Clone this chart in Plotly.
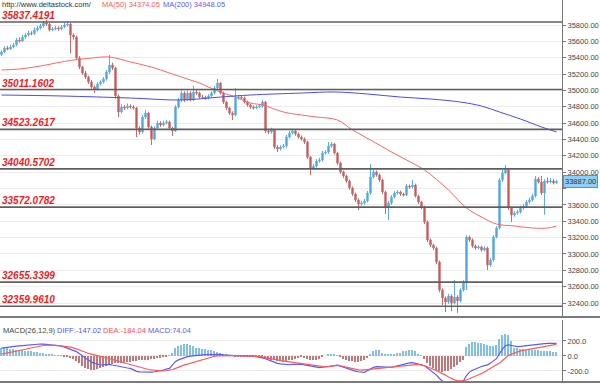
import plotly.graph_objects as go
from plotly.subplots import make_subplots

# ---------------- data ----------------
opens = [
    35440, 35470, 35519, 35507, 35531, 35555, 35617, 35604, 35653, 35678,
    35702, 35698, 35739, 35763, 35788, 35825, 35812, 35739, 35751, 35763,
    35751, 35776, 35800, 35812, 35678, 35653, 35396, 35286, 35213, 35164,
    35103, 35042, 35017, 35078, 35103, 35140, 35225, 35311, 35274, 34932,
    34736, 34797, 34785, 34809, 34797, 34785, 34540, 34491, 34675, 34724,
    34553, 34406, 34540, 34602, 34577, 34602, 34614, 34540, 34504, 34797,
    34883, 34968, 34883, 34968, 34883, 34981, 34968, 34919, 34913, 34907,
    34932, 34968, 35030, 35091, 34968, 34858, 34785, 34724, 34699, 34907,
    34919, 34907, 34858, 34822, 34797, 34785, 34797, 34809, 34858, 34504,
    34491, 34516, 34308, 34284, 34308, 34320, 34430, 34479, 34504, 34467,
    34430, 34406, 34369, 34186, 34051, 34075, 34137, 34149, 34234, 34247,
    34320, 34345, 34234, 34112, 34002, 33953, 33892, 33807, 33733, 33660,
    33611, 33623, 33648, 33745, 33941, 34002, 33966, 33904, 33758, 33562,
    33623, 33697, 33745, 33757, 33733, 33721, 33831, 33819, 33843, 33709,
    33635, 33574, 33391, 33171, 33109, 33073, 32902, 32559, 32461, 32412,
    32486, 32400, 32473, 32425, 32559, 32645, 33207, 33171, 33097, 33073,
    33085, 33048, 33073, 32865, 32926, 33207, 33317, 33904, 33990, 34027,
    33562, 33476, 33501, 33513, 33562, 33586, 33635, 33660, 33709, 33917,
    33880, 33745, 33892, 33880, 33892, 33868,
]
highs = [
    35490, 35540, 35545, 35560, 35580, 35640, 35650, 35680, 35700, 35730,
    35725, 35770, 35790, 35815, 35850, 35861, 35825, 35775, 35790, 35785,
    35800, 35830, 35850, 35830, 35700, 35670, 35420, 35300, 35240, 35180,
    35125, 35060, 35100, 35125, 35165, 35250, 35433, 35340, 35290, 34950,
    34830, 34820, 34840, 34830, 34820, 34800, 34560, 34700, 34760, 34740,
    34570, 34560, 34630, 34625, 34630, 34640, 34630, 34555, 34820, 34910,
    35000, 34990, 35000, 34990, 35054, 35010, 34985, 34945, 34935, 34955,
    34990, 35055, 35140, 35105, 34985, 34870, 34800, 34745, 35030, 34945,
    34940, 34925, 34875, 34840, 34815, 34820, 34835, 34883, 34870, 34525,
    34545, 34530, 34330, 34330, 34345, 34455, 34505, 34530, 34520, 34485,
    34450, 34425, 34385, 34200, 34100, 34160, 34175, 34260, 34270, 34369,
    34370, 34360, 34250, 34130, 34020, 33970, 33910, 33825, 33750, 33680,
    33650, 33675, 33770, 34100, 34030, 34020, 33985, 33920, 33775, 33650,
    33720, 33770, 33780, 33775, 33750, 33855, 33850, 33904, 33860, 33725,
    33650, 33590, 33410, 33190, 33125, 33090, 32920, 32580, 32480, 32510,
    32505, 32681, 32495, 32580, 32680, 33230, 33225, 33190, 33115, 33110,
    33100, 33095, 33090, 32950, 33230, 33340, 33930, 34030, 34088, 34040,
    33580, 33525, 33540, 33590, 33610, 33660, 33690, 33735, 33953, 33940,
    33953, 33915, 33935, 33930, 33915, 33905,
]
lows = [
    35420, 35455, 35490, 35495, 35515, 35540, 35585, 35590, 35630, 35660,
    35675, 35680, 35720, 35745, 35770, 35790, 35720, 35725, 35735, 35730,
    35735, 35760, 35780, 35457, 35620, 35370, 35260, 35190, 35140, 35080,
    35020, 34968, 35000, 35060, 35085, 35120, 35200, 35250, 34900, 34675,
    34720, 34760, 34770, 34775, 34765, 34430, 34460, 34470, 34650, 34530,
    34333, 34390, 34520, 34555, 34560, 34585, 34520, 34443, 34490, 34780,
    34860, 34860, 34870, 34865, 34870, 34945, 34895, 34895, 34885, 34890,
    34915, 34950, 35015, 34950, 34835, 34760, 34700, 34638, 34680, 34885,
    34885, 34840, 34800, 34775, 34765, 34770, 34780, 34790, 34480, 34465,
    34470, 34285, 34247, 34265, 34290, 34300, 34410, 34460, 34445, 34410,
    34385, 34345, 34160, 33966, 34030, 34055, 34115, 34130, 34215, 34225,
    34300, 34215, 34090, 33980, 33930, 33870, 33785, 33710, 33635, 33537,
    33590, 33600, 33630, 33725, 33920, 33945, 33880, 33735, 33488, 33415,
    33600, 33680, 33725, 33710, 33700, 33705, 33795, 33800, 33690, 33610,
    33550, 33365, 33145, 33085, 33050, 32875, 32530, 32376, 32290, 32390,
    32300, 32380, 32280, 32405, 32540, 32559, 33150, 33075, 33050, 33055,
    33025, 33030, 32804, 32845, 32905, 33190, 33300, 33880, 33975, 33540,
    33391, 33455, 33480, 33495, 33540, 33565, 33615, 33640, 33690, 33860,
    33720, 33480, 33860, 33865, 33850, 33860,
]
closes = [
    35470, 35519, 35507, 35531, 35555, 35617, 35604, 35653, 35678, 35702,
    35698, 35739, 35763, 35788, 35825, 35812, 35739, 35751, 35763, 35751,
    35776, 35800, 35812, 35678, 35653, 35396, 35286, 35213, 35164, 35103,
    35042, 35017, 35078, 35103, 35140, 35225, 35311, 35274, 34932, 34736,
    34797, 34785, 34809, 34797, 34785, 34540, 34491, 34675, 34724, 34553,
    34406, 34540, 34602, 34577, 34602, 34614, 34540, 34504, 34797, 34883,
    34968, 34883, 34968, 34883, 34981, 34968, 34919, 34913, 34907, 34932,
    34968, 35030, 35091, 34968, 34858, 34785, 34724, 34699, 34907, 34919,
    34907, 34858, 34822, 34797, 34785, 34797, 34809, 34858, 34504, 34491,
    34516, 34308, 34284, 34308, 34320, 34430, 34479, 34504, 34467, 34430,
    34406, 34369, 34186, 34051, 34075, 34137, 34149, 34234, 34247, 34320,
    34345, 34234, 34112, 34002, 33953, 33892, 33807, 33733, 33660, 33611,
    33623, 33648, 33745, 33941, 34002, 33966, 33904, 33758, 33562, 33623,
    33697, 33745, 33757, 33733, 33721, 33831, 33819, 33843, 33709, 33635,
    33574, 33391, 33171, 33109, 33073, 32902, 32559, 32461, 32412, 32486,
    32400, 32473, 32425, 32559, 32645, 33207, 33171, 33097, 33073, 33085,
    33048, 33073, 32865, 32926, 33207, 33317, 33904, 33990, 34027, 33562,
    33476, 33501, 33513, 33562, 33586, 33635, 33660, 33709, 33917, 33880,
    33745, 33892, 33880, 33892, 33868, 33887,
]

ma50_idx = [0, 6, 13, 20, 24, 30, 36, 43, 50, 56, 63, 66, 72, 78, 83, 87, 94,
            100, 105, 112, 117, 123, 130, 135, 141, 149, 155, 160, 165, 171,
            177, 182, 185]
ma50_val = [35250, 35262, 35299, 35348, 35372, 35396, 35409, 35348, 35286,
            35213, 35127, 35091, 34993, 34919, 34846, 34822, 34736, 34699,
            34675, 34638, 34516, 34394, 34247, 34149, 34027, 33782, 33562,
            33452, 33366, 33342, 33317, 33317, 33342]

ma200_idx = [0, 20, 43, 60, 73, 83, 100, 111, 122, 133, 143, 153, 160, 166,
             173, 180, 185]
ma200_val = [34944, 34932, 34907, 34883, 34919, 34944, 34968, 34981, 34956,
             34919, 34895, 34858, 34809, 34736, 34650, 34553, 34492]

diff = [
    105, 112, 118, 123, 127, 132, 136, 140, 145, 150,
    154, 157, 159, 160, 158, 154, 150, 146, 142, 138,
    132, 118, 104, 88, 72, 58, 30, 2, -28, -60,
    -82, -96, -110, -120, -117, -114, -111, -120, -130, -140,
    -146, -153, -160, -166, -185, -205, -211, -213, -215, -218,
    -216, -210, -204, -199, -188, -176, -166, -120, -72, -52,
    -35, -18, -8, -3, 3, 8, 12, 15, 17, 19,
    21, 22, 22, 21, 16, 11, 7, 4, 4, 4,
    4, 4, 4, 3, -3, -9, -15, -21, -35, -52,
    -68, -85, -99, -106, -113, -119, -117, -112, -108, -105,
    -110, -118, -126, -136, -145, -152, -155, -150, -143, -135,
    -128, -123, -122, -135, -150, -165, -180, -192, -202, -210,
    -215, -218, -195, -170, -152, -143, -145, -150, -154, -154,
    -150, -142, -130, -118, -108, -98, -92, -89, -97, -107,
    -117, -130, -160, -190, -215, -255, -300, -340, -370, -390,
    -400, -398, -385, -360, -330, -260, -215, -190, -170, -155,
    -140, -128, -118, -95, -65, -35, 30, 95, 140, 148,
    140, 130, 124, 127, 133, 139, 144, 147, 155, 160,
    163, 166, 169, 170, 170, 169,
]
dea = [
    25, 32, 40, 48, 56, 64, 72, 80, 90, 100,
    110, 120, 128, 135, 140, 143, 145, 145, 143, 140,
    136, 132, 126, 118, 108, 96, 82, 66, 50, 34,
    22, 12, 3, -6, -14, -24, -34, -46, -58, -70,
    -80, -92, -104, -116, -128, -140, -150, -160, -170, -180,
    -186, -192, -196, -199, -200, -197, -190, -180, -165, -148,
    -132, -118, -108, -96, -82, -67, -55, -42, -30, -20,
    -12, -4, 2, 4, 5, 5, 5, 5, 5, 5,
    4, 4, 4, 4, 2, -2, -8, -14, -20, -26,
    -34, -42, -52, -62, -68, -76, -83, -88, -92, -95,
    -100, -108, -116, -124, -131, -137, -141, -146, -145, -142,
    -136, -130, -126, -130, -140, -152, -162, -172, -180, -186,
    -188, -184, -180, -175, -170, -166, -163, -160, -157, -154,
    -150, -147, -144, -141, -137, -131, -124, -116, -111, -112,
    -118, -130, -145, -160, -178, -196, -215, -233, -255, -280,
    -300, -318, -328, -333, -332, -320, -300, -280, -262, -250,
    -236, -215, -190, -165, -140, -118, -95, -60, -25, 8,
    25, 42, 58, 68, 76, 83, 90, 96, 101, 106,
    112, 120, 128, 138, 148, 158,
]
macd_hist = [
    110, 105, 100, 95, 90, 85, 80, 75, 70, 65,
    60, 55, 50, 45, 35, 28, 22, 16, 10, 6,
    3, -5, -15, -30, -45, -70, -100, -130, -160, -180,
    -187, -185, -175, -160, -150, -135, -120, -110, -100, -95,
    -88, -82, -78, -75, -70, -65, -60, -56, -53, -50,
    -45, -38, -30, -22, -15, -8, 5, 40, 100, 130,
    150, 160, 160, 150, 130, 110, 100, 95, 90, 82,
    75, 65, 50, 40, 30, 15, 5, 0, -3, -5,
    -6, -8, -10, -12, -14, -18, -20, -22, -30, -40,
    -50, -60, -68, -72, -76, -70, -60, -50, -40, -30,
    -20, -30, -40, -50, -53, -50, -40, -20, 0, 15,
    20, 15, 5, -20, -40, -55, -65, -72, -76, -75,
    -70, -60, -30, 30, 70, 80, 75, 40, 20, 15,
    20, 30, 35, 45, 60, 70, 80, 80, 60, 30,
    8, -40, -90, -130, -160, -185, -200, -209, -205, -195,
    -180, -150, -120, -80, -50, 120, 165, 185, 180, 175,
    170, 160, 140, 130, 135, 140, 230, 285, 293, 280,
    200, 110, 100, 95, 90, 85, 80, 75, 80, 75,
    70, 65, 60, 60, 55, 50,
]

pivot_levels = [35837.4191, 35011.1602, 34523.2617, 34040.5702,
                33572.0782, 32655.3399, 32359.9610]
pivot_labels = ["35837.4191", "35011.1602", "34523.2617", "34040.5702",
                "33572.0782", "32655.3399", "32359.9610"]
price_ticks = [32400, 32600, 32800, 33000, 33200, 33400, 33600, 33800, 34000,
               34200, 34400, 34600, 34800, 35000, 35200, 35400, 35600, 35800]
hidden_tick = 33800   # covered by the last-price box in the reference
macd_ticks = [-200, 0, 200]
macd_tick_text = ["-200.0", "0.0", "200.0"]
last_price_text = "33887.00"

# ---------------- figure ----------------
x = list(range(len(closes)))
FONT = "Liberation Sans"

fig = make_subplots(rows=2, cols=1, shared_xaxes=True)

fig.add_trace(go.Candlestick(
    x=x, open=opens, high=highs, low=lows, close=closes,
    increasing=dict(line=dict(color="#5aaee2", width=1), fillcolor="#3f9fda"),
    decreasing=dict(line=dict(color="#cc6a6a", width=1), fillcolor="#bd4b4b"),
    whiskerwidth=0, showlegend=False, hoverinfo="skip"), row=1, col=1)

fig.add_trace(go.Scatter(x=ma50_idx, y=ma50_val, mode="lines",
                         line=dict(color="#ff6464", width=1, shape="spline"),
                         showlegend=False, hoverinfo="skip"), row=1, col=1)
fig.add_trace(go.Scatter(x=ma200_idx, y=ma200_val, mode="lines",
                         line=dict(color="#4a4af0", width=1, shape="spline"),
                         showlegend=False, hoverinfo="skip"), row=1, col=1)

bar_colors = ["#7fc0e4" if v >= 0 else "#c07878" for v in macd_hist]
fig.add_trace(go.Bar(x=x, y=macd_hist, marker=dict(color=bar_colors, line=dict(width=0)),
                     width=0.35, showlegend=False, hoverinfo="skip"), row=2, col=1)
fig.add_trace(go.Scatter(x=x, y=diff, mode="lines",
                         line=dict(color="#5a5aff", width=1.2),
                         showlegend=False, hoverinfo="skip"), row=2, col=1)
fig.add_trace(go.Scatter(x=x, y=dea, mode="lines",
                         line=dict(color="#ff5a5a", width=1.2),
                         showlegend=False, hoverinfo="skip"), row=2, col=1)

H = 382.0  # plot-area height in px (t=0, b=8)
def py(px):
    return (H - px) / H

price_tick_text = ["" if t == hidden_tick else f"{t:.2f}" for t in price_ticks]

xr = [-0.5, -0.5 + 562 / 3.0]
fig.update_layout(
    width=600, height=390,
    margin=dict(l=0, r=38, t=0, b=8),
    paper_bgcolor="white", plot_bgcolor="white",
    font=dict(family=FONT, size=8, color="#444"),
    showlegend=False, bargap=0, boxgap=0.35,
    xaxis=dict(domain=[0, 1], range=xr, showticklabels=False, showgrid=False,
               zeroline=False, rangeslider=dict(visible=False), showline=False),
    xaxis2=dict(domain=[0, 1], range=xr, showticklabels=False, showgrid=False,
                zeroline=False, showline=False),
    yaxis=dict(domain=[py(316), 1], range=[32241, 36106], side="right",
               tickvals=price_ticks, ticktext=price_tick_text,
               gridcolor="#ececec", gridwidth=1, zeroline=False,
               showline=True, linecolor="#777", linewidth=1,
               ticks="outside", ticklen=3, tickcolor="#777",
               tickfont=dict(size=7.5, color="#444", family=FONT)),
    yaxis2=dict(domain=[0, py(320)], range=[-347, 480], side="right",
                tickvals=macd_ticks, ticktext=macd_tick_text,
                gridcolor="#ececec", gridwidth=1, zeroline=False,
                showline=True, linecolor="#777", linewidth=1,
                ticks="outside", ticklen=3, tickcolor="#777",
                tickfont=dict(size=7.5, color="#444", family=FONT)),
)

shapes = []
for lvl in pivot_levels:
    shapes.append(dict(type="line", xref="paper", yref="y", x0=0, x1=1,
                       y0=lvl, y1=lvl, line=dict(color="#5f5f5f", width=1.6)))
# pane separators
for ypx in (317, 382):
    shapes.append(dict(type="line", xref="paper", yref="paper", x0=0, x1=600 / 562,
                       y0=py(ypx), y1=py(ypx), line=dict(color="#7a7a7a", width=2)))
fig.update_layout(shapes=shapes)

ann = []
for lvl, lab in zip(pivot_levels, pivot_labels):
    ann.append(dict(xref="paper", yref="y", x=0, y=lvl, xanchor="left", yanchor="bottom",
                    xshift=1, yshift=0, text=lab, showarrow=False, borderpad=0,
                    font=dict(family=FONT, size=10, color="#f01c1c",
                              weight="bold", style="italic")))

def top_text(xpx, ypx, text, color):
    return dict(xref="paper", yref="paper", x=xpx / 562, y=py(ypx), xanchor="left",
                yanchor="middle", text=text, showarrow=False, borderpad=0,
                font=dict(family=FONT, size=7.5, color=color))

ann.append(top_text(1, 5, "http://www.deltastock.com/", "#333333"))
ann.append(top_text(101, 5, "MA(50) 34374.05", "#ff5a5a"))
ann.append(top_text(162, 5, "MA(200) 34948.05", "#5a5af0"))
ann.append(top_text(2, 330, "MACD(26,12,9)", "#444444"))
ann.append(top_text(56, 330, "DIFF:-147.02", "#5050ff"))
ann.append(top_text(102, 330, "DEA:-184.04", "#ff4a4a"))
ann.append(top_text(147, 330, "MACD:74.04", "#6060e0"))

ann.append(dict(xref="paper", yref="y", x=1, y=closes[-1], xanchor="left",
                yanchor="middle", xshift=1, text=last_price_text, showarrow=False,
                bgcolor="#8dd0f7", bordercolor="#3f9ad8", borderwidth=1, borderpad=1,
                font=dict(family=FONT, size=7.5, color="#333")))
fig.update_layout(annotations=ann)

fig.write_html(
    "out.html",
    config={"displayModeBar": False},
    post_script="document.body.style.margin='0';document.body.style.padding='0';"
                "document.body.style.overflow='hidden';",
)
